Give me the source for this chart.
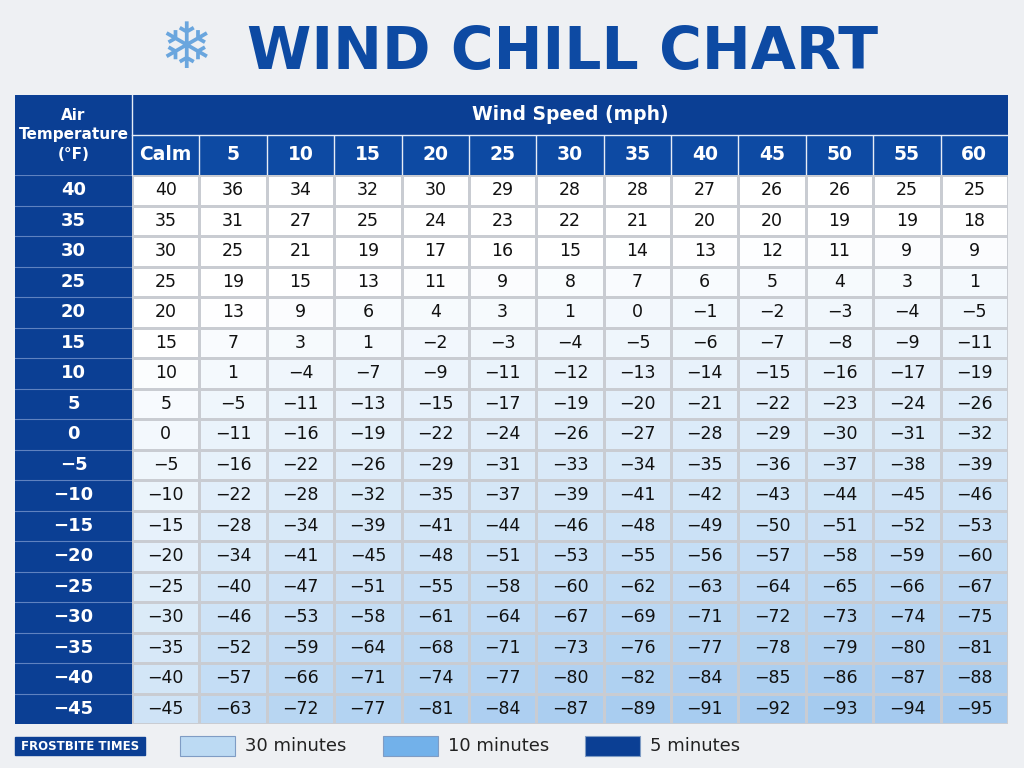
import numpy as np, pandas as pd, seaborn as sns, matplotlib
matplotlib.use("Agg")
import matplotlib.pyplot as plt
from matplotlib.colors import LinearSegmentedColormap
from matplotlib.patches import Rectangle

cols = ["Calm","5","10","15","20","25","30","35","40","45","50","55","60"]
temps = ["40","35","30","25","20","15","10","5","0","−5","−10","−15","−20","−25","−30","−35","−40","−45"]
values = [
[40,36,34,32,30,29,28,28,27,26,26,25,25],
[35,31,27,25,24,23,22,21,20,20,19,19,18],
[30,25,21,19,17,16,15,14,13,12,11,9,9],
[25,19,15,13,11,9,8,7,6,5,4,3,1],
[20,13,9,6,4,3,1,0,-1,-2,-3,-4,-5],
[15,7,3,1,-2,-3,-4,-5,-6,-7,-8,-9,-11],
[10,1,-4,-7,-9,-11,-12,-13,-14,-15,-16,-17,-19],
[5,-5,-11,-13,-15,-17,-19,-20,-21,-22,-23,-24,-26],
[0,-11,-16,-19,-22,-24,-26,-27,-28,-29,-30,-31,-32],
[-5,-16,-22,-26,-29,-31,-33,-34,-35,-36,-37,-38,-39],
[-10,-22,-28,-32,-35,-37,-39,-41,-42,-43,-44,-45,-46],
[-15,-28,-34,-39,-41,-44,-46,-48,-49,-50,-51,-52,-53],
[-20,-34,-41,-45,-48,-51,-53,-55,-56,-57,-58,-59,-60],
[-25,-40,-47,-51,-55,-58,-60,-62,-63,-64,-65,-66,-67],
[-30,-46,-53,-58,-61,-64,-67,-69,-71,-72,-73,-74,-75],
[-35,-52,-59,-64,-68,-71,-73,-76,-77,-78,-79,-80,-81],
[-40,-57,-66,-71,-74,-77,-80,-82,-84,-85,-86,-87,-88],
[-45,-63,-72,-77,-81,-84,-87,-89,-91,-92,-93,-94,-95],
]
legend_labels = ["30 minutes","10 minutes","5 minutes"]
legend_colors = ["#bcdaf3","#72b1ea","#0b3f94"]

df = pd.DataFrame(values, index=temps, columns=cols)
annot = df.map(lambda v: f"{v}".replace("-", "−"))

W, H = 1024, 768
fig = plt.figure(figsize=(W/100, H/100), dpi=100, facecolor="#eef0f3")
def fa(x0, y0, x1, y1):
    return fig.add_axes([x0/W, 1-y1/H, (x1-x0)/W, (y1-y0)/H])

cmap = LinearSegmentedColormap.from_list("wc", ["#a4caef", "#d3e6f7", "#ffffff"])
ax = fa(132, 175, 1008, 724)
sns.heatmap(df, ax=ax, cmap=cmap, vmin=-95, vmax=15, annot=annot, fmt="",
            cbar=False, linewidths=0.8, linecolor="#c9ccd2",
            annot_kws={"fontsize": 12.5, "color": "#111111"})
ax.set_xticks([]); ax.set_yticks([]); ax.set_xlabel(""); ax.set_ylabel("")

rh = fa(15, 175, 132, 724)
rh.set_xlim(0, 1); rh.set_ylim(len(temps), 0); rh.axis("off")
rh.add_patch(Rectangle((0, 0), 1, len(temps), color="#0b3f94"))
for i, t in enumerate(temps):
    rh.text(0.5, i+0.5, t, color="white", fontsize=13, fontweight="bold", ha="center", va="center")
    rh.axhline(i, color="#5f82c0", lw=0.8)

ch = fa(132, 135, 1008, 175)
ch.set_xlim(0, len(cols)); ch.set_ylim(1, 0); ch.axis("off")
ch.add_patch(Rectangle((0, 0), len(cols), 1, color="#0d4aa3"))
for j, c in enumerate(cols):
    ch.text(j+0.5, 0.5, c, color="white", fontsize=13.5, fontweight="bold", ha="center", va="center")
    if j: ch.axvline(j, color="#e6ecf6", lw=1)

wb = fa(132, 95, 1008, 135); wb.axis("off")
wb.add_patch(Rectangle((0, 0), 1, 1, color="#0b3f94", transform=wb.transAxes))
wb.text(0.5, 0.5, "Wind Speed (mph)", color="white", fontsize=13.5, fontweight="bold",
        ha="center", va="center", transform=wb.transAxes)
cb = fa(15, 95, 132, 175); cb.axis("off")
cb.add_patch(Rectangle((0, 0), 1, 1, color="#0b3f94", transform=cb.transAxes))
cb.text(0.5, 0.5, "Air\nTemperature\n(°F)", color="white", fontsize=11, fontweight="bold",
        ha="center", va="center", linespacing=1.35, transform=cb.transAxes)
fig.add_artist(plt.Line2D([132/W, 1008/W], [1-135/H]*2, color="#e6ecf6", lw=1))
fig.add_artist(plt.Line2D([132/W]*2, [1-95/H, 1-175/H], color="#e6ecf6", lw=1))

fig.text(186/W, 1-50/H, "❄", color="#6aa6de", fontsize=46, ha="center", va="center")
fig.text(563/W, 1-52/H, "WIND CHILL CHART", color="#0d4aa3", fontsize=42,
         fontweight="heavy", ha="center", va="center")

fig.add_artist(Rectangle((15/W, 1-755/H), 130/W, 18/H, color="#0b3f94"))
fig.text(80/W, 1-746/H, "FROSTBITE TIMES", color="white", fontsize=8.5, fontweight="bold",
         ha="center", va="center")
for x0, lab, col in zip([180, 383, 585], legend_labels, legend_colors):
    fig.add_artist(Rectangle((x0/W, 1-756/H), 55/W, 20/H, facecolor=col, edgecolor="#7f9cc4", lw=0.8))
    fig.text((x0+65)/W, 1-746/H, lab, fontsize=13, color="#222222", va="center")

fig.savefig("out.png", dpi=100, facecolor=fig.get_facecolor())
